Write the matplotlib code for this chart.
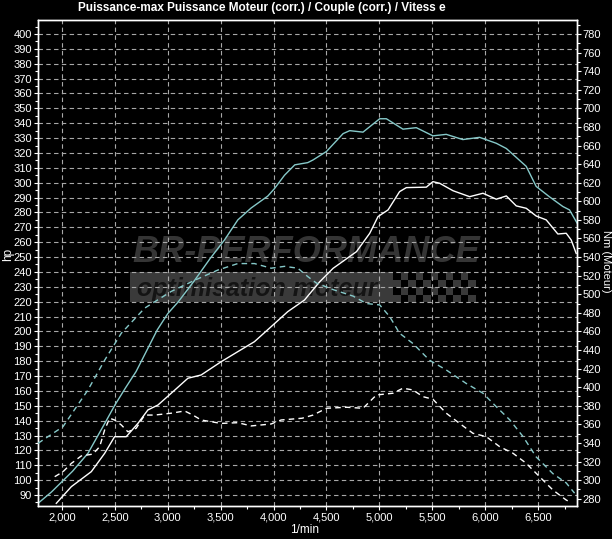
import matplotlib
matplotlib.use("Agg")
import matplotlib.pyplot as plt
from matplotlib.ticker import MultipleLocator, FuncFormatter
from matplotlib.patches import Rectangle

plt.rcParams['font.family'] = ['Liberation Sans Narrow', 'Liberation Sans', 'DejaVu Sans']

# Puissance (hp) - courbe cyan (corr.)
rpm_p1 = [1775, 1900, 2000, 2100, 2245, 2403, 2500, 2600, 2700, 2800, 2900, 3000,
          3100, 3250, 3400, 3536, 3662, 3788, 3945, 4008, 4103, 4200, 4323, 4373,
          4500, 4657, 4720, 4845, 5003, 5066, 5223, 5349, 5506, 5632, 5789, 5947,
          6105, 6200, 6388, 6482, 6608, 6734, 6797, 6870]
hp_p1 = [84.5, 92, 99, 106, 118, 138, 150.5, 162, 173, 187, 201, 212,
         220, 234, 249, 261.5, 275, 283, 291, 296, 305, 312, 313.5, 315.3,
         321, 333, 335, 334, 343, 343, 336, 337, 331.5, 332.5, 329, 330.5,
         326.5, 323, 311, 297.5, 290.5, 284, 281.7, 272.7]

# Puissance (hp) - courbe blanche
rpm_p2 = [1946, 2088, 2277, 2403, 2497, 2607, 2718, 2812, 2907, 3032, 3190, 3315,
          3504, 3662, 3819, 3977, 4134, 4292, 4436, 4562, 4783, 4909, 4987, 5082,
          5191, 5255, 5444, 5506, 5570, 5696, 5853, 5979, 6105, 6200, 6294, 6388,
          6482, 6577, 6687, 6766, 6813, 6860]
hp_p2 = [84.4, 95.6, 105.7, 118, 129.2, 129.2, 138.2, 147.2, 150.5, 158.4, 168.5, 170.7,
         179.6, 186.4, 193.1, 203.2, 213.3, 221.1, 233.4, 242.4, 253.6, 266, 277.2, 281.7,
         294, 296.7, 297, 300.7, 299.6, 294.6, 290.6, 292.9, 288.9, 291.1, 284.4, 282.8,
         277.6, 275, 265.5, 266, 261.5, 252.5]

# Couple (Nm) - courbe cyan pointillee
rpm_t1 = [1773, 2009, 2245, 2403, 2560, 2781, 3032, 3253, 3473, 3662, 3819, 3977,
          4103, 4229, 4323, 4405, 4562, 4751, 4877, 5003, 5097, 5191, 5317, 5474,
          5632, 5821, 5979, 6105, 6231, 6357, 6482, 6640, 6766, 6845]
nm_t1 = [339.6, 357.5, 397, 429, 458, 485, 503, 515, 526, 533, 533, 528,
         530, 528, 519, 512, 505, 498, 490, 488.5, 476, 458, 447, 429,
         418.5, 404, 393.5, 379, 365, 347, 325, 307, 297, 286]

# Couple (Nm) - courbe blanche pointillee
rpm_t2 = [1931, 2009, 2088, 2182, 2292, 2356, 2403, 2450, 2497, 2560, 2623, 2701,
          2781, 2875, 3032, 3159, 3237, 3315, 3504, 3662, 3788, 3977, 4071, 4270,
          4373, 4500, 4689, 4845, 4972, 5129, 5223, 5317, 5412, 5506, 5632, 5758,
          5884, 6010, 6137, 6263, 6388, 6514, 6640, 6766, 6797]
nm_t2 = [303.7, 309, 318, 326, 328, 336, 354, 366.6, 364.7, 359.4, 352, 355.8,
         370, 370, 372, 374.4, 370, 364.7, 361, 361.8, 358.3, 360.4, 364.7, 366.6,
         370, 377.3, 378.4, 377.3, 391.6, 393.5, 398.9, 397, 389.8, 387, 372, 361,
         350.4, 346.8, 336, 328.9, 318.1, 303.7, 289.4, 278.6, 276.8]

W, H = 612, 539
L, R, T, B = 38, 577, 20, 506
bg = "#000000"
fg = "#ffffff"
cyan = "#86c9c9"
grid_c = "#a8a8a8"

fig = plt.figure(figsize=(W / 100, H / 100), dpi=100, facecolor=bg)
ax = fig.add_axes([L / W, 1 - B / H, (R - L) / W, (B - T) / H])
ax.set_facecolor(bg)

hp_lim = (82.6, 409.4)
ax.set_xlim(1773, 6868)
ax.set_ylim(*hp_lim)

ax2 = ax.twinx()
ax2.set_ylim(780 + 1.6 * (hp_lim[0] - 400), 780 + 1.6 * (hp_lim[1] - 400))


def px2ax(x, y):
    return (x - L) / (R - L), (B - y) / (B - T)


# filigrane
wx, wy = px2ax(306, 253)
ax.text(wx, wy, "BR-PERFORMANCE", transform=ax.transAxes, ha='center', va='center',
        fontsize=26, fontweight='bold', fontstyle='italic', color="#353535",
        family=['Liberation Sans', 'DejaVu Sans'], zorder=0.2)
bx0, by0 = px2ax(130, 302)
bx1, by1 = px2ax(393, 272)
ax.add_patch(Rectangle((bx0, by0), bx1 - bx0, by1 - by0, transform=ax.transAxes,
                       facecolor="#3a3a3a", edgecolor='none', zorder=0.1))
sq = 7.5
for i in range(11):
    for j in range(4):
        if (i + j) % 2 == 0:
            x0, y0 = px2ax(393 + i * sq, 302 - j * sq)
            x1, y1 = px2ax(393 + (i + 1) * sq, 302 - (j + 1) * sq)
            ax.add_patch(Rectangle((x0, y0), x1 - x0, y1 - y0, transform=ax.transAxes,
                                   facecolor="#3a3a3a", edgecolor='none', zorder=0.1))
ox, oy = px2ax(137, 289)
ax.text(ox, oy, "optimisation moteur", transform=ax.transAxes, ha='left', va='center',
        fontsize=18, fontweight='bold', fontstyle='italic', color="#141414",
        family=['Liberation Sans', 'DejaVu Sans'], zorder=0.3)

# grille
ax.set_axisbelow(True)
ax.grid(True, which='major', color=grid_c, linestyle=(0, (4, 3)), linewidth=0.8)

# courbes
ax.plot(rpm_p1, hp_p1, color=cyan, lw=1.0, zorder=3)
ax.plot(rpm_p2, hp_p2, color=fg, lw=1.0, zorder=3)
ax2.plot(rpm_t1, nm_t1, color=cyan, lw=1.0, linestyle=(0, (4, 3)), zorder=3)
ax2.plot(rpm_t2, nm_t2, color=fg, lw=1.0, linestyle=(0, (4, 3)), zorder=3)

# axes
ax.xaxis.set_major_locator(MultipleLocator(500))
ax.xaxis.set_minor_locator(MultipleLocator(250))
ax.xaxis.set_major_formatter(FuncFormatter(lambda v, p: f"{int(v):,}"))
ax.yaxis.set_major_locator(MultipleLocator(10))
ax.yaxis.set_minor_locator(MultipleLocator(5))
ax2.yaxis.set_major_locator(MultipleLocator(20))
ax2.yaxis.set_minor_locator(MultipleLocator(10))

for a in (ax, ax2):
    for s in a.spines.values():
        s.set_color(fg)
        s.set_linewidth(1.0)
    a.tick_params(which='major', colors=fg, labelcolor=fg, labelsize=8, length=3,
                  width=0.8, pad=1.5, direction='out')
    a.tick_params(which='minor', colors=fg, length=2, width=0.8, direction='out')
ax2.tick_params(which='major', pad=1)

ax.set_xticks([t for t in range(2000, 7000, 500)])

fig.text(262 / W, 1 - 8 / H, "Puissance-max Puissance Moteur (corr.) / Couple (corr.) / Vitess e",
         ha='center', va='center', fontsize=8.5, fontweight='bold', color=fg)
fig.text(8 / W, 1 - 254 / H, "hp", rotation=90, ha='center', va='center',
         fontsize=8.5, color=fg)
fig.text(606 / W, 1 - 261 / H, "Nm (Moteur)", rotation=-90, ha='center', va='center',
         fontsize=8, color=fg)
fig.text(305 / W, 1 - 530 / H, "1/min", ha='center', va='center', fontsize=8.5, color=fg)

fig.savefig("out.png", dpi=100, facecolor=bg)
